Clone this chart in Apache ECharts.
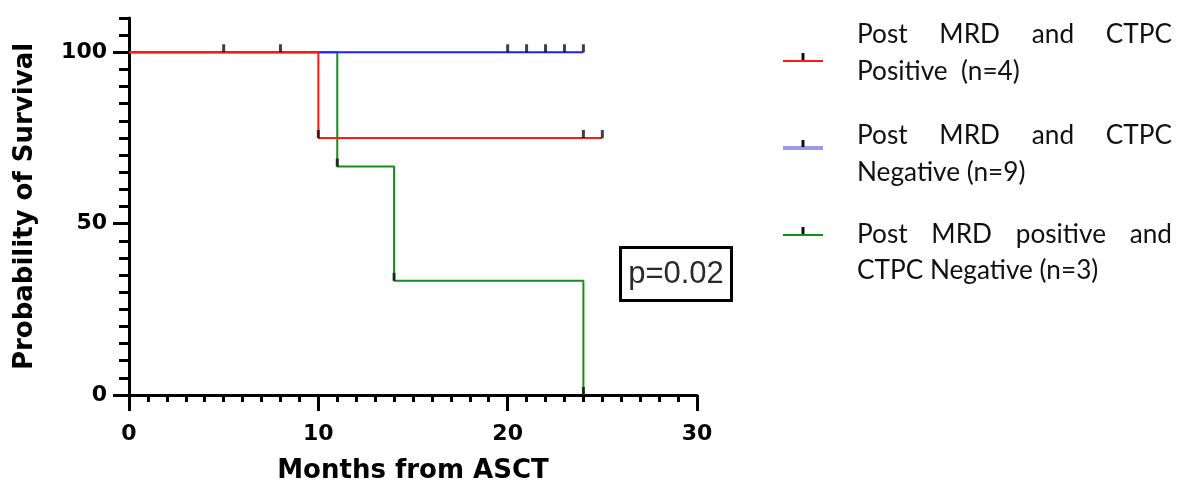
<!DOCTYPE html>
<html><head><meta charset="utf-8">
<script src="https://cdn.jsdelivr.net/npm/echarts@6/dist/echarts.min.js"></script>
<style>html,body{margin:0;padding:0;background:#fff}#c{width:1177px;height:489px}</style>
</head><body><div id="c"></div>
<script>
// ---- data ----
const xLabelValues = [0, 10, 20, 30];
const yLabelValues = [0, 50, 100];

const redTime = [0, 10, 25];
const redSurv = [100, 75, 75];
const redMarkTime = [5, 8, 10, 24, 25];
const redMarkSurv = [100, 100, 75, 75, 75];

const blueTime = [0, 24];
const blueSurv = [100, 100];
const blueMarkTime = [20, 21, 22, 23, 24];
const blueMarkSurv = [100, 100, 100, 100, 100];

const greenTime = [0, 11, 14, 24];
const greenSurv = [100, 66.67, 33.33, 0];
const greenMarkTime = [11, 14, 24];
const greenMarkSurv = [66.67, 33.33, 0];

const legendNames = ['Post MRD and CTPC Positive  (n=4)', 'Post MRD and CTPC Negative (n=9)', 'Post MRD positive and CTPC Negative (n=3)'];
const pText = 'p=0.02';

// ---- colours ----
const RED = '#ff1a1a', BLUE = '#1f1fff', GREEN = '#12901a', MARK = '#111';

const zip = (a, b) => a.map((v, i) => [v, b[i]]);

function stepSeries(t, s, color, z) {
  return { type: 'line', step: 'end', data: zip(t, s), symbol: 'none', silent: true, z: z,
    lineStyle: { color: color, width: 2 } };
}
function markSeries(t, s) {
  return { type: 'scatter', data: zip(t, s), symbol: 'rect', symbolSize: [3, 8], symbolOffset: [0, -4],
    itemStyle: { color: MARK }, silent: true, z: 10 };
}

// ---- legend text layout (justified lines) ----
const ctx = document.createElement('canvas').getContext('2d');
const LFONT = 'Lato';
ctx.font = '24px ' + LFONT;
let lfs = 24 * 241 / ctx.measureText('CTPC Negative (n=3)').width;
lfs = Math.round(lfs * 10) / 10;
const lfont = lfs + 'px ' + LFONT;
function wWidth(s) { ctx.font = lfont; return ctx.measureText(s).width; }

const LEFT = 857, RIGHT = 1172;
const graphics = [];
function textEl(x, y, s, align) {
  graphics.push({ type: 'text', x: x, y: y, silent: true,
    style: { text: s, font: lfont, fill: '#111', textAlign: align || 'left', textVerticalAlign: 'middle' } });
}
function justified(words, y) {
  const total = words.reduce((a, w) => a + wWidth(w), 0);
  const gap = (RIGHT - LEFT - total) / (words.length - 1);
  let x = LEFT;
  words.forEach((w) => { textEl(x, y, w); x += wWidth(w) + gap; });
}
const lines = [
  [legendNames[0], 4, 35, 71.5, RED, 61, 2],
  [legendNames[1], 4, 136, 172.5, '#9a9ae8', 148, 4],
  [legendNames[2], 4, 234.5, 271, GREEN, 235, 2]
];
lines.forEach(([name, n, y1, y2, col, ly, lw]) => {
  const words = name.split(' ');
  justified(words.slice(0, n), y1);
  textEl(LEFT, y2, name.slice(words.slice(0, n).join(' ').length + 1));
  graphics.push({ type: 'line', silent: true, shape: { x1: 783, y1: ly, x2: 823, y2: ly },
    style: { stroke: col, lineWidth: lw } });
  graphics.push({ type: 'rect', silent: true, shape: { x: 801.5, y: ly - 8, width: 3, height: 7 },
    style: { fill: MARK } });
});

// p-value box
graphics.push({ type: 'rect', silent: true, shape: { x: 620.5, y: 247.5, width: 111, height: 53 },
  style: { fill: '#fff', stroke: '#000', lineWidth: 3 } });
graphics.push({ type: 'text', silent: true, x: 676, y: 274,
  style: { text: pText, font: '31px "Liberation Sans", Arial, sans-serif', fill: '#2a2a2a',
    textAlign: 'center', textVerticalAlign: 'middle' } });

const chart = echarts.init(document.getElementById('c'), null, { renderer: 'canvas' });
const axisFont = { fontFamily: '"DejaVu Sans", sans-serif', fontWeight: 'bold', color: '#000' };
chart.setOption({
  animation: false,
  grid: { left: 129, right: 480, top: 18, bottom: 93, containLabel: false },
  xAxis: {
    type: 'value', min: 0, max: 30, interval: 10,
    name: 'Months from ASCT', nameLocation: 'middle', nameGap: 63,
    nameTextStyle: Object.assign({ fontSize: 26 }, axisFont),
    axisLine: { show: true, onZero: false, lineStyle: { color: '#000', width: 3 } },
    axisTick: { show: true, length: 16, lineStyle: { color: '#000', width: 3 }, customValues: xLabelValues },
    minorTick: { show: true, splitNumber: 10, length: 7, lineStyle: { color: '#000', width: 3 } },
    axisLabel: Object.assign({ fontSize: 22, margin: 28, customValues: xLabelValues }, axisFont),
    splitLine: { show: false }, minorSplitLine: { show: false }
  },
  yAxis: [{
    type: 'value', min: 0, max: 110, interval: 50,
    name: 'Probability of Survival', nameLocation: 'middle', nameGap: 91,
    nameTextStyle: Object.assign({ fontSize: 26 }, axisFont),
    axisLine: { show: true, onZero: false, lineStyle: { color: '#000', width: 3 } },
    axisTick: { show: true, length: 16, lineStyle: { color: '#000', width: 3 }, customValues: yLabelValues },
    axisLabel: Object.assign({ fontSize: 22, margin: 22, customValues: yLabelValues }, axisFont),
    splitLine: { show: false }
  }, {
    type: 'value', min: 0, max: 110, interval: 5, position: 'left', offset: 0,
    axisLine: { show: false },
    axisTick: { show: true, length: 10, lineStyle: { color: '#000', width: 3 } },
    axisLabel: { show: false }, splitLine: { show: false }
  }],
  series: [
    stepSeries(greenTime, greenSurv, GREEN, 2),
    stepSeries(blueTime, blueSurv, BLUE, 3),
    stepSeries(redTime, redSurv, RED, 4),
    markSeries(redMarkTime, redMarkSurv),
    markSeries(blueMarkTime, blueMarkSurv),
    markSeries(greenMarkTime, greenMarkSurv)
  ],
  graphic: graphics
});
</script></body></html>
